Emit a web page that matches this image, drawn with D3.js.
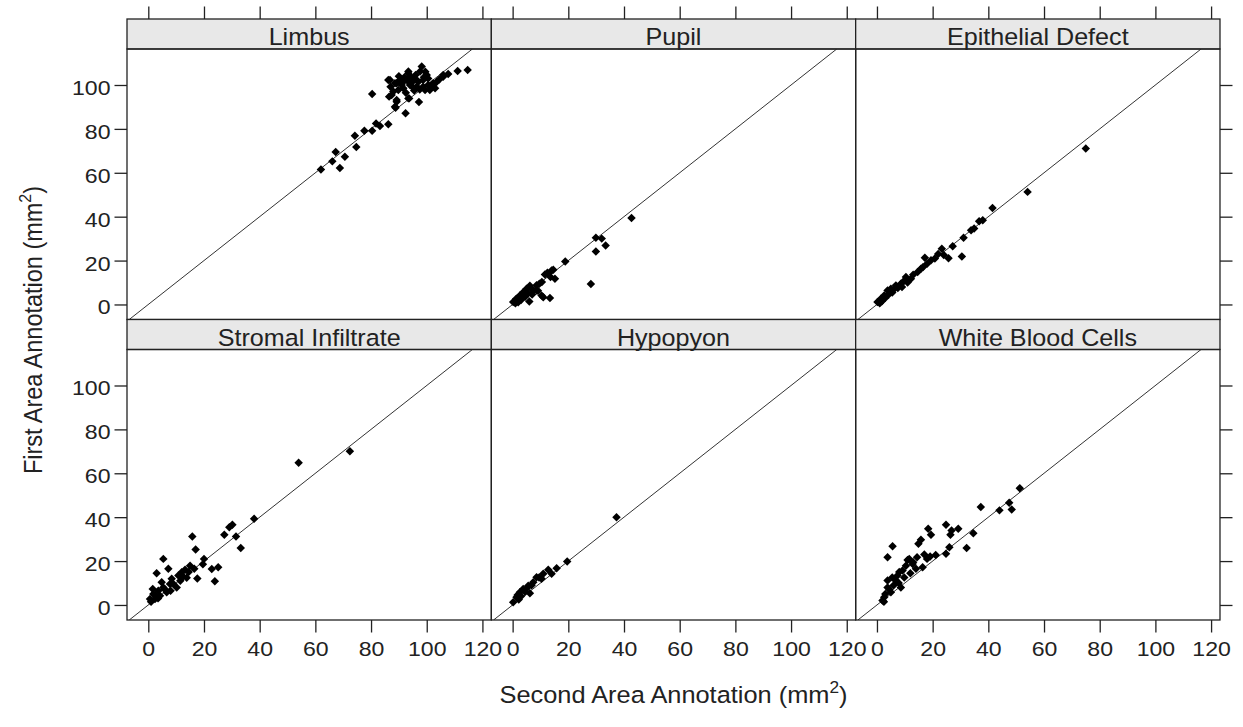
<!DOCTYPE html>
<html>
<head>
<meta charset="utf-8">
<script src="https://cdn.jsdelivr.net/npm/d3@7/dist/d3.min.js"></script>
<style>
  html, body { margin: 0; padding: 0; background: #fff; }
  svg { display: block; }
  text { font-family: "Liberation Sans", Arial, Helvetica, sans-serif; fill: #222; }
</style>
</head>
<body>
<svg id="chart" width="1243" height="727"></svg>
<script>
// ---------------- DATA ----------------
const panelNames = ["Limbus", "Pupil", "Epithelial Defect", "Stromal Infiltrate", "Hypopyon", "White Blood Cells"];
const xTickValues = [0, 20, 40, 60, 80, 100, 120];
const yTickValues = [0, 20, 40, 60, 80, 100];
const xTitle = "Second Area Annotation (mm";
const yTitle = "First Area Annotation (mm";

// [second annotation, first annotation]
const limbus = [[62.0,61.5],[66.1,65.2],[67.3,69.5],[68.8,62.2],[70.6,67.3],[74.2,76.9],[74.7,71.8],[77.6,79.1],[80.4,95.9],[80.4,79.1],[81.8,82.5],[83.2,81.3],[86.2,82.1],[88.8,89.6],[89.2,92.4],[92.4,87.1],[93.7,93.9],[97.2,92.2],[86.2,102.3],[87.0,99.2],[88.6,100.8],[86.5,94.7],[89.8,97.7],[91.6,101.5],[93.4,105.3],[94.0,100.0],[95.2,103.0],[96.4,99.2],[98.2,108.4],[97.6,106.1],[98.7,102.3],[100.0,104.6],[100.5,100.0],[99.4,97.7],[101.1,97.7],[102.3,100.8],[103.6,101.5],[105.9,104.6],[107.7,105.0],[111.1,106.4],[114.7,106.8],[93.4,106.1],[86.8,102.3],[89.2,100.8],[91.6,98.5],[90.4,102.3],[97.0,101.5],[98.7,99.2],[102.3,100.0],[105.9,103.8],[87.4,95.4],[89.2,93.2],[93.4,93.9],[88.6,90.1],[92.0,103.5],[94.5,101.0],[96.0,104.5],[99.5,106.0],[95.5,97.5],[92.5,96.5],[100.5,103.0],[97.5,98.0],[90.0,104.0],[103.0,98.5],[104.5,102.5],[91.0,100.0],[93.0,102.0],[95.0,99.0],[96.5,102.0],[99.0,103.5],[101.5,99.0],[88.0,97.0],[94.0,104.0]];
const pupil = [[42.7,39.4],[29.9,30.4],[32.0,30.0],[33.4,26.9],[29.9,24.1],[28.1,9.3],[18.9,19.6],[14.6,15.8],[11.6,13.7],[13.6,12.5],[15.2,11.7],[14.0,15.5],[12.5,14.5],[9.6,9.4],[10.5,10.2],[13.4,2.9],[6.0,1.4],[10.4,4.1],[5.0,7.2],[7.4,6.4],[8.6,6.4],[2.6,4.1],[0.2,1.1],[1.3,2.6],[3.8,5.6],[6.2,8.5],[8.6,8.8],[9.1,6.2],[6.8,7.2],[3.2,3.3],[1.4,1.8],[2.0,1.0],[4.5,3.5],[5.5,5.0],[7.0,4.5],[3.0,2.0],[4.0,4.8],[11.0,3.3],[1.0,0.5],[2.5,3.0]];
const epithelial = [[75.0,71.1],[54.1,51.3],[41.5,44.0],[38.0,38.4],[36.7,37.9],[34.9,34.6],[33.8,33.8],[31.1,30.4],[27.2,26.5],[23.3,25.4],[25.7,21.1],[30.5,21.9],[20.8,20.9],[19.4,20.1],[17.2,21.3],[18.0,18.6],[15.8,16.3],[14.6,14.8],[13.0,13.5],[12.2,11.7],[10.4,12.5],[9.5,10.5],[8.6,9.4],[6.8,8.7],[6.0,6.8],[5.0,7.2],[3.8,6.4],[4.2,4.5],[2.6,4.1],[2.0,2.0],[1.4,2.6],[0.2,1.1],[1.0,0.5],[3.0,3.0],[7.5,7.5],[11.0,10.0],[16.5,17.0],[22.0,23.0],[24.0,22.5],[9.0,8.0],[5.5,5.5],[1.8,1.5]];
const stromal = [[72.4,70.0],[54.0,64.8],[38.0,39.3],[30.2,36.5],[29.1,35.4],[27.3,32.0],[31.5,31.2],[33.2,26.0],[15.8,31.2],[17.0,25.3],[20.0,21.0],[19.6,18.5],[17.6,12.1],[22.8,16.4],[25.1,17.2],[23.9,10.8],[5.4,21.0],[3.0,14.4],[7.2,16.5],[15.0,17.9],[13.2,16.0],[12.0,14.9],[13.8,12.4],[10.8,13.4],[8.4,11.9],[7.8,9.6],[5.4,8.0],[3.6,6.5],[1.8,5.0],[0.6,2.7],[2.4,2.7],[4.2,4.2],[6.6,5.8],[10.2,8.0],[4.8,10.3],[1.6,7.3],[9.0,9.6],[11.5,11.0],[14.5,15.0],[16.5,16.5],[2.5,4.5],[3.5,3.0],[6.0,7.0],[1.0,1.5],[8.0,6.5],[12.5,13.0]];
const hypopyon = [[37.3,40.0],[19.6,19.8],[15.8,16.7],[12.8,16.0],[14.0,14.2],[11.0,14.2],[8.6,12.6],[10.4,11.9],[7.4,10.3],[5.6,8.8],[6.2,5.3],[3.8,7.3],[2.6,5.8],[1.4,3.5],[0.2,1.2],[4.5,6.0],[1.8,4.5],[3.0,4.0],[9.5,12.5],[6.8,9.0],[2.2,2.5],[5.0,7.5]];
const wbc = [[51.3,53.2],[47.5,46.6],[48.4,43.5],[44.0,43.1],[37.3,44.6],[34.6,32.7],[32.2,26.0],[29.2,34.7],[26.8,33.9],[24.8,36.5],[26.4,32.0],[26.0,26.3],[24.8,23.3],[21.1,22.8],[19.1,22.1],[18.4,34.7],[19.4,32.0],[15.8,29.7],[14.9,27.9],[18.0,21.0],[5.6,26.8],[3.8,21.7],[14.4,21.7],[16.4,17.2],[11.0,20.5],[12.8,18.7],[10.4,17.9],[9.2,15.7],[7.4,13.4],[6.8,11.1],[8.6,8.0],[3.8,11.1],[3.8,8.0],[5.0,5.8],[2.6,3.5],[2.0,2.0],[11.6,21.0],[14.0,16.5],[12.0,14.5],[9.8,12.5],[7.8,10.0],[6.0,9.0],[4.5,7.0],[3.0,5.0],[2.5,1.5],[5.5,12.5],[8.0,15.0],[13.0,19.5],[17.0,23.0]];
const panelData = [limbus, pupil, epithelial, stromal, hypopyon, wbc];

// ---------------- LAYOUT ----------------
const svg = d3.select("#chart");
const left0 = 127, top0 = 19;
const colW = 364.33, rowH = 300.5, stripH = 30, panelH = 270.5;
const xDomain = [-7.65, 123.2], yDomain = [-6.85, 116.4];
const tickLen = 12.5;
const tickFont = 21;
const stretch = 1.1;   // the reference glyphs are slightly wider than tall

const symbolPath = d3.symbol().type(d3.symbolSquare).size(36)();

panelNames.forEach((name, i) => {
  const col = i % 3, row = Math.floor(i / 3);
  const x0 = left0 + col * colW;
  const sTop = top0 + row * rowH;
  const pTop = sTop + stripH;
  const pBot = pTop + panelH;

  const x = d3.scaleLinear().domain(xDomain).range([x0, x0 + colW]);
  const y = d3.scaleLinear().domain(yDomain).range([pBot, pTop]);

  const g = svg.append("g");

  // strip
  g.append("rect").attr("x", x0).attr("y", sTop).attr("width", colW).attr("height", stripH)
    .attr("fill", "#e8e8e8").attr("stroke", "#222").attr("stroke-width", 1.3);
  g.append("text")
    .attr("transform", `translate(${x0 + colW / 2},${sTop + 26}) scale(1.07,1)`)
    .attr("text-anchor", "middle").attr("font-size", 23.5).text(name);

  // clip
  const clipId = "clip" + i;
  svg.append("clipPath").attr("id", clipId).append("rect")
    .attr("x", x0).attr("y", pTop).attr("width", colW).attr("height", panelH);

  const inner = g.append("g").attr("clip-path", `url(#${clipId})`);
  const lo = Math.max(xDomain[0], yDomain[0]), hi = Math.min(xDomain[1], yDomain[1]);
  inner.append("line")
    .attr("x1", x(lo)).attr("y1", y(lo)).attr("x2", x(hi)).attr("y2", y(hi))
    .attr("stroke", "#333").attr("stroke-width", 1);

  inner.selectAll("path.pt").data(panelData[i]).join("path")
    .attr("class", "pt")
    .attr("d", symbolPath)
    .attr("transform", d => `translate(${x(d[0])},${y(d[1])}) rotate(45)`)
    .attr("fill", "#000");

  // border
  g.append("rect").attr("x", x0).attr("y", pTop).attr("width", colW).attr("height", panelH)
    .attr("fill", "none").attr("stroke", "#222").attr("stroke-width", 1.3);

  // axes
  if (col === 0) {
    const ax = g.append("g").attr("transform", `translate(${x0},0)`)
      .call(d3.axisLeft(y).tickValues(yTickValues).tickSize(tickLen).tickPadding(4).tickFormat(d3.format("d")));
    ax.select(".domain").remove();
    ax.selectAll("line").attr("stroke", "#222").attr("stroke-width", 1.3);
    ax.selectAll("text").attr("font-size", tickFont).attr("fill", "#222")
      .attr("font-family", '"Liberation Sans", Arial, sans-serif').attr("dy", "0.45em")
      .attr("x", -(tickLen + 4) / stretch)
      .attr("transform", `scale(${stretch},1)`);
  }
  if (col === 2) {
    const ax = g.append("g").attr("transform", `translate(${x0 + colW},0)`)
      .call(d3.axisRight(y).tickValues(yTickValues).tickSize(tickLen).tickFormat(""));
    ax.select(".domain").remove();
    ax.selectAll("line").attr("stroke", "#222").attr("stroke-width", 1.3);
  }
  if (row === 0) {
    const ax = g.append("g").attr("transform", `translate(0,${sTop})`)
      .call(d3.axisTop(x).tickValues(xTickValues).tickSize(tickLen).tickFormat(""));
    ax.select(".domain").remove();
    ax.selectAll("line").attr("stroke", "#222").attr("stroke-width", 1.3);
  }
  if (row === 1) {
    const ax = g.append("g").attr("transform", `translate(0,${pBot})`)
      .call(d3.axisBottom(x).tickValues(xTickValues).tickSize(tickLen).tickPadding(9).tickFormat(d3.format("d")));
    ax.select(".domain").remove();
    ax.selectAll("line").attr("stroke", "#222").attr("stroke-width", 1.3);
    ax.selectAll("text").attr("font-size", tickFont).attr("fill", "#222")
      .attr("font-family", '"Liberation Sans", Arial, sans-serif')
      .attr("transform", `scale(${stretch},1)`);
  }
});

// axis titles
const xt = svg.append("text").attr("transform", `translate(${left0 + 1.5 * colW},703) scale(1.08,1)`)
  .attr("text-anchor", "middle").attr("font-size", 23.5);
xt.append("tspan").text(xTitle);
xt.append("tspan").attr("font-size", 16).attr("dy", -10).text("2");
xt.append("tspan").attr("dy", 10).text(")");

const yt = svg.append("text").attr("transform", "translate(42,330) rotate(-90) scale(1,1.08)")
  .attr("text-anchor", "middle").attr("font-size", 23.5);
yt.append("tspan").text(yTitle);
yt.append("tspan").attr("font-size", 16).attr("dy", -10).text("2");
yt.append("tspan").attr("dy", 10).text(")");
</script>
</body>
</html>
